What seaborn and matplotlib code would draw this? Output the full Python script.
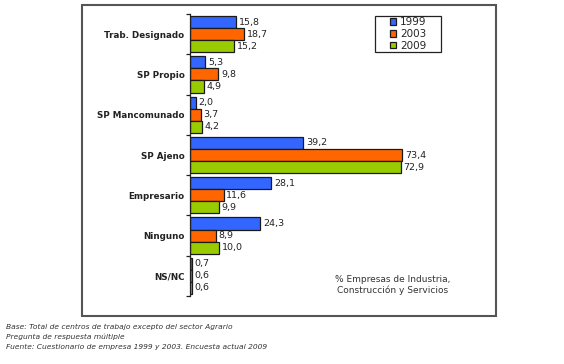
import numpy as np
import pandas as pd
import matplotlib.pyplot as plt
import seaborn as sns
from matplotlib.patches import Rectangle

sns.set_style("white")
plt.rcParams["font.family"] = ["DejaVu Sans"]

# --- data ---
categories = ["Trab. Designado", "SP Propio", "SP Mancomunado", "SP Ajeno",
              "Empresario", "Ninguno", "NS/NC"]
years = ["1999", "2003", "2009"]
v1999 = [15.8, 5.3, 2.0, 39.2, 28.1, 24.3, 0.7]
v2003 = [18.7, 9.8, 3.7, 73.4, 11.6, 8.9, 0.6]
v2009 = [15.2, 4.9, 4.2, 72.9, 9.9, 10.0, 0.6]
colors = ["#3366FF", "#FF6600", "#99CC00"]

df = pd.DataFrame({
    "Categoria": categories * 3,
    "Valor": v1999 + v2003 + v2009,
    "Año": [y for y in years for _ in categories],
})

W, H = 564, 364
fig = plt.figure(figsize=(W / 100, H / 100), dpi=100)
ax = fig.add_axes([190 / W, 68 / H, 289 / W, 282 / H])

sns.barplot(data=df, y="Categoria", x="Valor", hue="Año", orient="h",
            palette=colors, edgecolor="#1a1a1a", linewidth=0.9,
            width=0.9, ax=ax, saturation=1)

for cont in ax.containers:
    ax.bar_label(cont, fmt=lambda v: f"{v:.1f}".replace(".", ","),
                 padding=2, fontsize=6.8, color="#222222")

ax.set_xlim(0, 100)
ax.set_ylim(6.5, -0.5)
ax.set_xlabel("")
ax.set_ylabel("")
ax.set_xticks([])
for s in ["top", "right", "bottom"]:
    ax.spines[s].set_visible(False)
ax.spines["left"].set_color("#222222")
ax.spines["left"].set_linewidth(0.9)
ax.set_yticks(range(len(categories)))
ax.set_yticklabels(categories, fontsize=6.3, fontweight="bold", color="#222222")
ax.tick_params(axis="y", which="major", left=True, length=0, pad=4)
ax.set_yticks(np.arange(-0.5, len(categories), 1), minor=True)
ax.tick_params(axis="y", which="minor", left=True, direction="out",
               length=3, width=0.9, color="#222222")

# legend: entries without frame, box drawn separately
leg = ax.legend(loc="center", bbox_to_anchor=(408 / W, 1 - 34 / H),
                bbox_transform=fig.transFigure, fontsize=7.5, frameon=False,
                handlelength=0.6, handleheight=0.6, handletextpad=0.4,
                labelspacing=0.15, borderpad=0, borderaxespad=0)
fig.patches.append(Rectangle((375 / W, 1 - 52 / H), 66 / W, 36 / H,
                             transform=fig.transFigure, fill=False,
                             edgecolor="#222222", linewidth=0.9))

fig.text(393 / W, 1 - 285 / H,
         "% Empresas de Industria,\nConstrucción y Servicios",
         ha="center", va="center", fontsize=6.5, color="#333333",
         linespacing=1.3)

# outer frame
fig.patches.append(Rectangle((82 / W, 1 - 316 / H), 414 / W, 311 / H,
                             transform=fig.transFigure, fill=False,
                             edgecolor="#555555", linewidth=1.5))

notes = ["Base: Total de centros de trabajo excepto del sector Agrario",
         "Pregunta de respuesta múltiple",
         "Fuente: Cuestionario de empresa 1999 y 2003. Encuesta actual 2009"]
for i, t in enumerate(notes):
    fig.text(6 / W, 1 - (327 + i * 10) / H, t, ha="left", va="center",
             fontsize=5.4, style="italic", color="#333333")

fig.savefig("out.png", dpi=100)
